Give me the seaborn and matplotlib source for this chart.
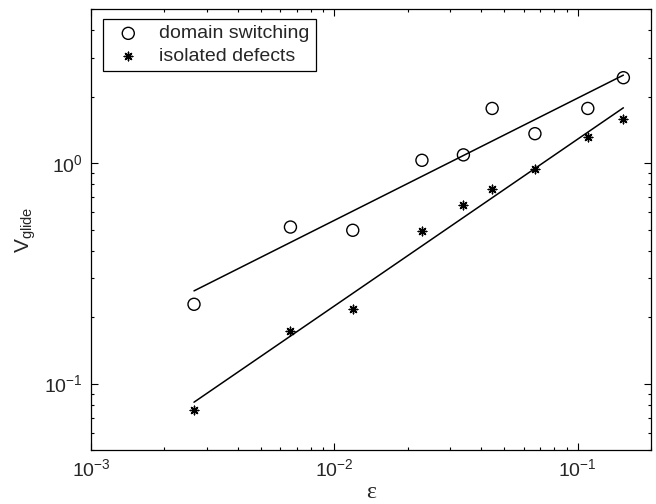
import numpy as np
import pandas as pd
import seaborn as sns
import matplotlib.pyplot as plt
from matplotlib.ticker import LogLocator, NullFormatter

# strain values and glide velocities
strain = [0.00265, 0.0066, 0.0119, 0.0229, 0.0339, 0.0445, 0.0667, 0.110, 0.154]
v_domain = [0.229, 0.513, 0.496, 1.03, 1.09, 1.77, 1.36, 1.77, 2.44]
v_defect = [0.076, 0.173, 0.219, 0.491, 0.644, 0.762, 0.936, 1.31, 1.58]

labels = ['domain switching', 'isolated defects']

sns.set_style('ticks')
plt.rcParams['font.family'] = ['Liberation Sans', 'DejaVu Sans']
plt.rcParams['mathtext.fontset'] = 'custom'
plt.rcParams['mathtext.rm'] = 'Liberation Sans'
plt.rcParams['mathtext.it'] = 'Liberation Sans'

df = pd.DataFrame({'strain': strain, 'domain': v_domain, 'defect': v_defect})

# power-law fits in log space
lx = np.log10(df['strain'])
fit = {}
for col in ['domain', 'defect']:
    p = np.polyfit(lx, np.log10(df[col]), 1)
    fit[col] = 10 ** np.polyval(p, lx)

fig = plt.figure(figsize=(6.56, 5.04), dpi=100)
ax = fig.add_axes([91 / 656, 1 - 450 / 504, 560 / 656, 441 / 504])

sns.lineplot(x=df['strain'], y=fit['domain'], ax=ax, color='black', lw=1.1)
sns.lineplot(x=df['strain'], y=fit['defect'], ax=ax, color='black', lw=1.1)
sns.scatterplot(data=df, x='strain', y='domain', ax=ax, marker='o', s=75,
                facecolor='none', edgecolor='black', linewidth=1.0, label=labels[0])
sns.scatterplot(data=df, x='strain', y='defect', ax=ax, marker=(8, 2, 0), s=38,
                color='black', edgecolor='black', linewidth=1.0, label=labels[1])

ax.set_xscale('log')
ax.set_yscale('log')
ax.set_xlim(1e-3, 0.2)
ax.set_ylim(0.05, 5)
ax.set_xticks([1e-3, 1e-2, 1e-1])
ax.set_yticks([1e-1, 1e0])
ax.xaxis.set_minor_locator(LogLocator(base=10, subs=np.arange(2, 10), numticks=20))
ax.yaxis.set_minor_locator(LogLocator(base=10, subs=np.arange(2, 10), numticks=20))
ax.xaxis.set_minor_formatter(NullFormatter())
ax.yaxis.set_minor_formatter(NullFormatter())
ax.tick_params(which='both', direction='in', top=True, right=True, labelsize=14,
               color='black', width=0.8)
ax.tick_params(which='major', length=5, pad=6)
ax.tick_params(which='minor', length=2.5)
for s in ax.spines.values():
    s.set_color('black')
    s.set_linewidth(0.9)

ax.set_xlabel('ε', family=['Liberation Serif'], fontsize=17, labelpad=1)
ax.set_ylabel(r'$\mathrm{V}_{\mathrm{glide}}$', fontsize=15, labelpad=4)

leg = ax.legend(loc='upper left', bbox_to_anchor=(12 / 560, 431 / 441), borderaxespad=0,
                fontsize=14, frameon=True, fancybox=False, edgecolor='black',
                framealpha=1, handlelength=2, handletextpad=0.6, borderpad=0.3,
                labelspacing=0.25)
leg.get_frame().set_linewidth(0.9)

fig.savefig('out.png', dpi=100)
